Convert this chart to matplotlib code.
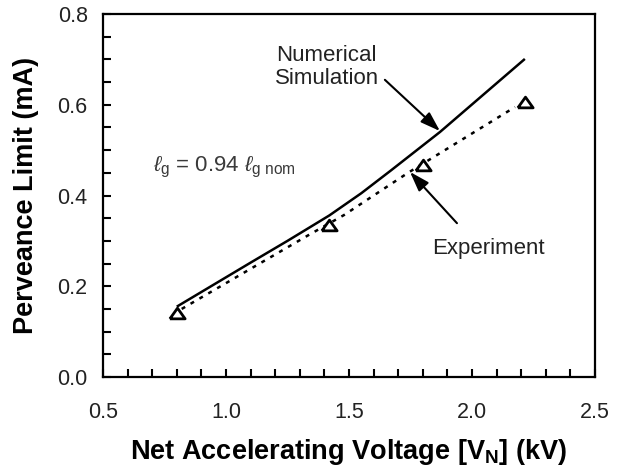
import matplotlib
matplotlib.use('Agg')
import matplotlib.pyplot as plt
from matplotlib.ticker import MultipleLocator

plt.rcParams['font.family'] = ['Liberation Sans', 'DejaVu Sans']
plt.rcParams['mathtext.fontset'] = 'custom'
plt.rcParams['mathtext.rm'] = 'Liberation Sans'
plt.rcParams['mathtext.it'] = 'Liberation Sans:italic'
plt.rcParams['mathtext.bf'] = 'Liberation Sans:bold'

# 数据
sim_v = [0.80, 1.10, 1.25, 1.42, 1.55, 1.67, 1.87, 2.215]
sim_p = [0.155, 0.252, 0.300, 0.356, 0.405, 0.455, 0.540, 0.701]

fit_v = [0.82, 1.33, 1.48, 1.74, 2.175]
fit_p = [0.150, 0.311, 0.357, 0.450, 0.595]

exp_v = [0.80, 1.42, 1.80, 2.215]
exp_p = [0.141, 0.336, 0.467, 0.606]

fig = plt.figure(figsize=(6.23, 4.69), dpi=100)
ax = fig.add_axes([0.1653, 0.1962, 0.7897, 0.7739])

ax.plot(sim_v, sim_p, color='black', lw=1.8, solid_capstyle='butt')
ax.plot(fit_v, fit_p, color='black', lw=1.8, linestyle=(0, (1.6, 2.5)))
tri = [(-1, -0.7), (1, -0.7), (0, 0.7), (-1, -0.7)]
ax.plot(exp_v, exp_p, linestyle='none', marker=tri, markersize=11,
        markerfacecolor='white', markeredgecolor='black', markeredgewidth=2.0)

ax.set_xlim(0.5, 2.5)
ax.set_ylim(0.0, 0.8)
ax.xaxis.set_major_locator(MultipleLocator(0.5))
ax.xaxis.set_minor_locator(MultipleLocator(0.1))
ax.yaxis.set_major_locator(MultipleLocator(0.2))
ax.yaxis.set_minor_locator(MultipleLocator(0.05))
ax.xaxis.set_major_formatter(plt.FormatStrFormatter('%.1f'))
ax.yaxis.set_major_formatter(plt.FormatStrFormatter('%.1f'))

ax.tick_params(which='both', direction='in', length=6, width=1.5,
               top=False, right=False, labelsize=15.5, colors='black')
ax.tick_params(axis='x', which='both', pad=18)
ax.tick_params(axis='y', which='both', pad=11)
ax.tick_params(labelcolor='#222222')
for s in ax.spines.values():
    s.set_linewidth(1.6)

ax.set_xlabel(r'Net Accelerating Voltage [V$_{\mathbf{N}}$] (kV)',
              fontsize=19.5, fontweight='bold')
ax.set_ylabel('Perveance Limit (mA)', fontsize=19.5, fontweight='bold')
ax.xaxis.set_label_coords(0.5, -0.2066)
ax.xaxis.label.set_va('center')
ax.yaxis.set_label_coords(-0.1565, 0.5)
ax.yaxis.label.set_va('center')

# 注释
ax.text(0.703, 0.461, r'$\ell_{\mathrm{g}}$ = 0.94 $\ell_{\mathrm{g\ nom}}$',
        fontsize=16, color='#3a3a3a', ha='left', va='center')

arrow = dict(arrowstyle='-|>,head_length=0.6,head_width=0.2', color='black',
             lw=1.5, mutation_scale=20, shrinkA=0, shrinkB=0)
ax.text(1.41, 0.683, 'Numerical\nSimulation', fontsize=16, ha='center',
        va='center', color='#222222', linespacing=1.15)
ax.annotate('', xy=(1.870, 0.542), xytext=(1.646, 0.655), arrowprops=arrow)
ax.text(2.067, 0.284, 'Experiment', fontsize=16, ha='center',
        va='center', color='#222222')
ax.annotate('', xy=(1.748, 0.452), xytext=(1.939, 0.339), arrowprops=arrow)

fig.savefig('out.png', dpi=100)
